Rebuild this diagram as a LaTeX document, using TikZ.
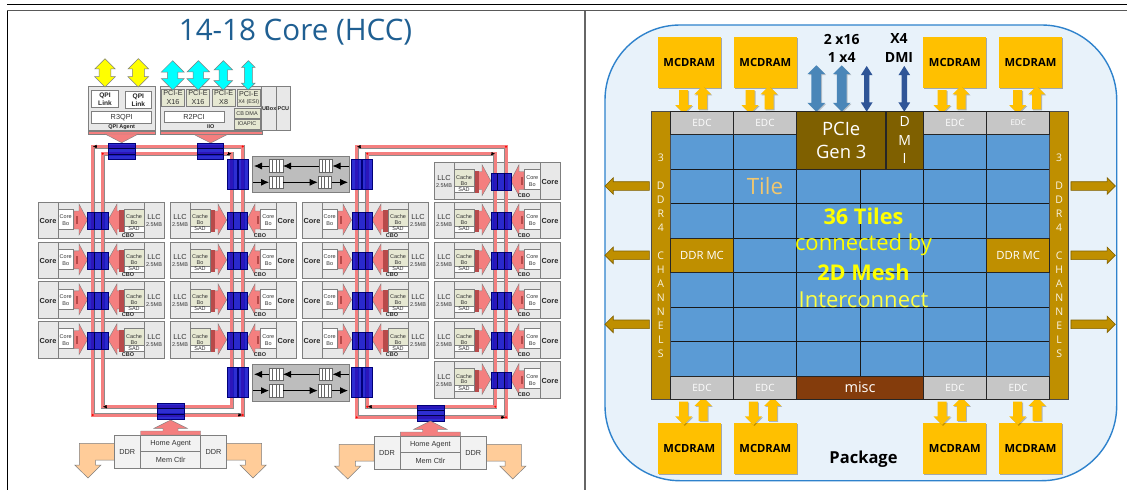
\documentclass[tikz,border=0pt]{standalone}
\usepackage{fontspec}
\setmainfont{Liberation Sans}
\newfontfamily\clearfont{Open Sans}
\usepackage{tikz}
\usetikzlibrary{positioning}
\usetikzlibrary{calc}
\usetikzlibrary{arrows.meta,shapes.arrows,shadows}

\definecolor{busred}{HTML}{F47F7F}
\definecolor{darkred}{HTML}{B84A4A}
\definecolor{stopblue}{HTML}{0000C8}
\definecolor{cellgrey}{HTML}{E8E8E8}
\definecolor{linegrey}{HTML}{7F7F7F}
\definecolor{paleolive}{HTML}{E6E8D2}
\definecolor{peach}{HTML}{FFCC99}
\definecolor{panelgrey}{HTML}{BDBDBD}
\definecolor{titleblue}{HTML}{1F5F92}
\definecolor{pkgfill}{HTML}{E8F2FA}
\definecolor{pkgline}{HTML}{2E82CC}
\definecolor{mcgold}{HTML}{FFC000}
\definecolor{ddrgold}{HTML}{BF8F00}
\definecolor{pciebrown}{HTML}{7F6000}
\definecolor{miscbrown}{HTML}{843C0C}
\definecolor{tileblue}{HTML}{5B9BD5}
\definecolor{edcgrey}{HTML}{C6C6C6}
\definecolor{midblue}{HTML}{4A86B8}
\definecolor{deepblue}{HTML}{2F5597}
\definecolor{linkyellow}{HTML}{FFFF00}
\definecolor{linkcyan}{HTML}{00FFFF}
\definecolor{tiletext}{HTML}{F2C76E}

\tikzset{
cellbox/.style={draw=linegrey,line width=.8pt,fill=cellgrey},
divline/.style={draw=linegrey,line width=.8pt},
whitebox/.style={draw=linegrey,line width=.5pt,fill=white},
olivebox/.style={draw=linegrey,line width=.5pt,fill=paleolive},
redblock/.style={draw=linegrey,line width=.4pt,fill=busred},
stopbox/.style={draw=stopblue!60!black,line width=.4pt,fill=stopblue,fill opacity=.82},
stopline/.style={draw=stopblue!35!black,line width=.8pt},
busline/.style={draw=black!45,double=busred,double distance=3pt,line width=.5pt},
busmark/.style={-{Latex[length=3.5pt,width=3.5pt]},black,line width=.4pt},
lbl/.style={inner sep=0pt,text=black!80,font=\fontsize{7.3}{8}\selectfont},
lblb/.style={inner sep=0pt,text=black!85,font=\bfseries\fontsize{7.3}{8}\selectfont},
lbls/.style={inner sep=0pt,text=black!80,font=\fontsize{5.5}{6}\selectfont},
lblsb/.style={inner sep=0pt,text=black!85,font=\bfseries\fontsize{5.5}{6}\selectfont},
yellowarrow/.style={double arrow,draw=linegrey,line width=.5pt,fill=linkyellow,inner xsep=0pt,inner ysep=5.7pt,rotate=90,double arrow head extend=4.3pt,minimum width=20pt,minimum height=28.3pt},
cyanarrow/.style={double arrow,draw=linegrey,line width=.5pt,fill=linkcyan,inner xsep=0pt,rotate=90,minimum height=29.3pt},
queuenode/.style={rectangle,draw=black!60,line width=.5pt,fill=white,minimum width=13.5pt,minimum height=12.7pt,inner sep=0pt,
path picture={\foreach \qx in {-3.4,0,3.4}{\draw[black!60,line width=.5pt] ([xshift=\qx pt]path picture bounding box.north)--([xshift=\qx pt]path picture bounding box.south);}}},
queueline/.style={-{Latex[length=8pt,width=7pt]},black,line width=.8pt},
peacharrow/.style={draw=linegrey,line width=.5pt,fill=peach},
mcdrambox/.style={rectangle,fill=mcgold,inner sep=0pt,minimum width=63.3pt,minimum height=51.6pt,drop shadow={shadow xshift=1pt,shadow yshift=-1pt,fill=black,opacity=.3},font=\clearfont\bfseries\fontsize{11.2}{12}\selectfont},
mcarrow/.style={single arrow,fill=mcgold,inner xsep=0pt,inner ysep=4.3pt,single arrow head extend=4pt,minimum width=16.6pt,minimum height=23.4pt,drop shadow={shadow xshift=1pt,shadow yshift=-1pt,fill=black,opacity=.25}},
goldarrow/.style={single arrow,draw=pciebrown,line width=.6pt,fill=ddrgold,inner xsep=0pt,inner ysep=4pt,single arrow head extend=4pt,minimum width=16pt,minimum height=44.4pt},
pciearrow/.style={double arrow,fill=midblue,inner xsep=0pt,inner ysep=4.7pt,rotate=90,double arrow head extend=4pt,minimum width=17.4pt,minimum height=46.4pt,drop shadow={shadow xshift=1pt,shadow yshift=-1pt,fill=black,opacity=.2}},
linkarrow/.style={double arrow,fill=deepblue,inner xsep=0pt,inner ysep=2.5pt,rotate=90,double arrow head extend=3.2pt,double arrow tip angle=65,minimum width=11.4pt,minimum height=45.7pt},
edcbox/.style={rectangle,draw=black!85,line width=.8pt,fill=edcgrey,text=white,inner sep=0pt,minimum width=63.2pt,minimum height=23pt,font=\clearfont\fontsize{10}{12}\selectfont},
chiplabel/.style={inner sep=0pt,text=black,font=\clearfont\bfseries\fontsize{14}{16}\selectfont},
meshtext/.style={inner sep=0pt,text=linkyellow,font=\clearfont\fontsize{22}{24}\selectfont},
meshbold/.style={inner sep=0pt,text=linkyellow,font=\clearfont\bfseries\fontsize{21.7}{24}\selectfont},
}

\newcommand{\stophor}[4]{
\draw[stopbox] (#1,#2) rectangle (#3,#4);
\draw[stopline] (#1,{#2+5.3})--(#3,{#2+5.3}) (#1,{#2+10.7})--(#3,{#2+10.7});
}
\newcommand{\stopver}[2]{
\draw[stopbox] (#1,#2) rectangle ({#1+10.2},{#2+30});
}
\newcommand{\stopcore}[2]{
\draw[stopbox] (#1,{#2+10.3}) rectangle ({#1+20.4},{#2+27});
\draw[stopline] ({#1+6.9},{#2+10.3})--({#1+6.9},{#2+27}) ({#1+13.7},{#2+10.3})--({#1+13.7},{#2+27});
}
\newcommand{\coreleft}[3]{
\begin{scope}[shift={(#2,#3)}]
\draw[cellbox] (0,0) rectangle (126,36.5);
\draw[divline] (20,0)--(20,36.5) (106,0)--(106,36.5);
\draw[whitebox] (20.3,7) rectangle (35,27);
\draw[redblock] (36,9)--(41,9)--(41,2)--(49.5,18)--(41,33)--(41,27)--(36,27)--cycle;
\fill[darkred] (37.5,14) rectangle (40,22);
\draw[redblock] (70,18)--(79,2)--(79,9)--(86,9)--(86,27)--(79,27)--(79,33)--cycle;
\fill[darkred] (81,8) rectangle (86,30);
\draw[olivebox] (86,7) rectangle (106,24);
\draw[whitebox] (86,24) rectangle (106,30);
\node[lblb](#1core) at (10,19){Core};
\node[lbls](#1corea) at (27.7,15){Core};
\node[lbls](#1coreb) at (27.7,22){Bo};
\node[lbls](#1cachea) at (96,15){Cache};
\node[lbls](#1cacheb) at (96,20.5){Bo};
\node[lbls](#1sad) at (96,27){SAD};
\node[lblsb](#1cbo) at (90,33.2){CBO};
\node[lbl](#1llc) at (116,15){LLC};
\node[lbls](#1size) at (116,23){2.5MB};
\end{scope}
}
\newcommand{\coreright}[3]{
\begin{scope}[shift={(#2,#3)}]
\draw[cellbox] (0,0) rectangle (126,36.5);
\draw[divline] (20,0)--(20,36.5) (106,0)--(106,36.5);
\draw[whitebox] (90.5,7) rectangle (106,27);
\draw[redblock] (40,9)--(48,9)--(48,2)--(56.7,18)--(48,33)--(48,27)--(40,27)--cycle;
\fill[darkred] (40,8) rectangle (45,30);
\draw[redblock] (76.7,18)--(85,2)--(85,9)--(90,9)--(90,27)--(85,27)--(85,33)--cycle;
\fill[darkred] (86.5,14) rectangle (89,22);
\draw[olivebox] (20,7) rectangle (40,24);
\draw[whitebox] (20,24) rectangle (40,30);
\node[lblb](#1core) at (116,19){Core};
\node[lbls](#1corea) at (98.3,15){Core};
\node[lbls](#1coreb) at (98.3,22){Bo};
\node[lbls](#1cachea) at (30,15){Cache};
\node[lbls](#1cacheb) at (30,20.5){Bo};
\node[lbls](#1sad) at (30,27){SAD};
\node[lblsb](#1cbo) at (90,33.2){CBO};
\node[lbl](#1llc) at (10,15){LLC};
\node[lbls](#1size) at (10,23){2.5MB};
\end{scope}
}
\newcommand{\queuepanel}[2]{
\begin{scope}[shift={(0,#2)}]
\draw[draw=linegrey,line width=.8pt,fill=panelgrey] (252.7,0) rectangle (349,36.7);
\coordinate (#1wa) at (254,10);
\coordinate (#1ea) at (349,10);
\coordinate (#1wb) at (253,26.3);
\coordinate (#1eb) at (348,26.3);
\node[queuenode](#1qa) at (276,10){};
\node[queuenode](#1qb) at (325.5,10){};
\node[queuenode](#1qc) at (276,26.3){};
\node[queuenode](#1qd) at (324.7,26.3){};
\draw[queueline] (#1ea)--(#1qb.east);
\draw[queueline] (#1qb.west)--(#1qa.east);
\draw[queueline] (#1qa.west)--(#1wa);
\draw[queueline] (#1wb)--(#1qc.west);
\draw[queueline] (#1qc.east)--(#1qd.west);
\draw[queueline] (#1qd.east)--(#1eb);
\end{scope}
}
\newcommand{\homeagent}[3]{
\begin{scope}[shift={(#2,#3)}]
\draw[peacharrow] (114.3,443.3)--(79.3,443.3)--(79.3,465)--(74.7,465)--(88,478)--(101,465)--(95.7,465)--(95.7,460)--(114.3,460)--cycle;
\draw[peacharrow] (226.7,443.3)--(261.7,443.3)--(261.7,465)--(266.3,465)--(253,478)--(240,465)--(245.3,465)--(245.3,460)--(226.7,460)--cycle;
\draw[redblock] (140.7,431)--(163,431)--(163,428.3)--(154,428.3)--(170.7,420)--(187.3,428.3)--(178,428.3)--(178,431)--(200.7,431)--(200.7,435)--(140.7,435)--cycle;
\draw[draw=linegrey,line width=.8pt,fill=black!5] (114.3,435) rectangle (226.7,468.3);
\draw[divline] (140.7,435)--(140.7,468.3) (200.7,435)--(200.7,468.3) (140.7,451.7)--(200.7,451.7);
\node[lbl](#1home) at (170.7,443.5){Home Agent};
\node[lbl](#1mem) at (170.7,460){Mem Ctlr};
\node[lbl](#1ddra) at (127.3,452){DDR};
\node[lbl](#1ddrb) at (213.5,452){DDR};
\end{scope}
}

\begin{document}
\begin{tikzpicture}[x=1pt,y=-1pt]
\path[use as bounding box,fill=white] (0,0) rectangle (1127,490);

\draw[black,line width=1pt] (7,4.5)--(1127,4.5);
\draw[black!65,line width=1pt] (7,10.5)--(1127,10.5);
\draw[black,line width=1pt] (7.3,10.5)--(7.3,490);
\draw[black!60,line width=1.3pt] (585,10.5)--(585,490);

\node[inner sep=0pt,text=titleblue,font=\clearfont\fontsize{29.6}{32}\selectfont](title) at (295.5,32){14-18 Core (HCC)};

\foreach \rowy [count=\rownum] in {202,241.9,281.8,321.7}{
\coreleft{A\rownum}{38}{\rowy}
\coreright{B\rownum}{170}{\rowy}
\coreleft{C\rownum}{302}{\rowy}
}
\foreach \rowy [count=\rownum] in {162.7,202,241.9,281.8,321.7,361.5}{
\coreright{D\rownum}{434}{\rowy}
}

\queuepanel{qtop}{156}
\queuepanel{qbot}{364.3}

\draw[cellbox,line width=.6pt] (88.3,86.7) rectangle (155,130.7);
\draw[redblock] (88.3,130.7) rectangle (155,134);
\draw[whitebox] (91.7,90.7) rectangle (118.3,107.3);
\draw[whitebox] (125,91.3) rectangle (151.7,108.7);
\draw[whitebox] (91.7,111.7) rectangle (151.7,123.7);
\node[lblb,align=center,font=\bfseries\fontsize{6.6}{8.6}\selectfont](qpia) at (105,99){QPI\\Link};
\node[lblb,align=center,font=\bfseries\fontsize{6.6}{8.6}\selectfont](qpib) at (138.3,100){QPI\\Link};
\node[lbl](r3qpi) at (121.7,117.5){R3QPI};
\node[lblsb](qpiagent) at (121.7,127){QPI Agent};
\draw[redblock] (105,134)--(138.3,134)--(121.7,142.7)--cycle;

\draw[cellbox,line width=.6pt] (160,86.7) rectangle (261.7,130.7);
\draw[redblock] (160,130.7) rectangle (261.7,134.5);
\foreach \pcx/\pcname/\pclane in {161.7/pcia/X16,186.7/pcib/X16,212.3/pcic/X8}{
\draw[olivebox] (\pcx,89.3) rectangle ({\pcx+22.7},106.3);
\node[lbl,align=center,font=\fontsize{7.2}{8.6}\selectfont](\pcname) at ({\pcx+11.3},97.8){PCI-E\\\pclane};
}
\draw[olivebox] (237.3,89.3) rectangle (260,106.3);
\node[lbl,align=center,font=\fontsize{7.2}{8.6}\selectfont](pcid) at (248.7,94){PCI-E};
\node[lbls](pcidl) at (248.7,102){X4 (ESI)};
\draw[olivebox] (234,108.3) rectangle (260,118.3);
\draw[olivebox] (234,119) rectangle (260,129);
\node[lbls](cbdma) at (247,113.3){CB DMA};
\node[lbls](ioapic) at (247,124){IOAPIC};
\draw[whitebox] (164,111) rectangle (224,122.7);
\node[lbl](r2pci) at (194,116.8){R2PCI};
\node[lblsb](iio) at (210.7,127){IIO};
\draw[redblock] (194,134.5)--(227.3,134.5)--(210.7,143)--cycle;
\draw[cellbox,line width=.6pt] (261.7,86.7) rectangle (276.7,130.7);
\draw[cellbox,line width=.6pt] (276.7,86.7) rectangle (290,130.7);
\node[lblsb](ubox) at (269.2,108.7){UBox};
\node[lblsb](pcu) at (283.4,108.7){PCU};

\node[yellowarrow](qpiup) at (105,72.8){};
\node[yellowarrow](qpiuq) at (138.3,72.8){};
\node[cyanarrow,minimum width=22.3pt,inner ysep=5pt,double arrow head extend=6.2pt](pcup) at (172.7,75.3){};
\node[cyanarrow,minimum width=22pt,inner ysep=5pt,double arrow head extend=6pt](pcuq) at (198.3,75.3){};
\node[cyanarrow,minimum width=18pt,inner ysep=4pt,double arrow head extend=5pt](pcur) at (223.3,75.3){};
\node[cyanarrow,minimum width=13pt,inner ysep=3.7pt,double arrow head extend=2.8pt](pcus) at (248.3,75.3){};

\coordinate (ringAa) at (92.7,146.5);
\coordinate (ringAb) at (242.7,415);
\coordinate (ringBa) at (102.7,153.7);
\coordinate (ringBb) at (231.7,406.7);
\coordinate (ringCa) at (356.7,146.7);
\coordinate (ringCb) at (506,417.3);
\coordinate (ringDa) at (367.3,153.7);
\coordinate (ringDb) at (495.3,406.7);
\draw[busline] (ringAa) rectangle (ringAb);
\draw[busline] (ringBa) rectangle (ringBb);
\draw[busline] (ringCa) rectangle (ringCb);
\draw[busline] (ringDa) rectangle (ringDb);

\foreach \rowy in {202,241.9,281.8,321.7}{
\stopcore{87.4}{\rowy}
\stopcore{226.7}{\rowy}
\stopcore{351.7}{\rowy}
}
\foreach \rowy in {162.7,202,241.9,281.8,321.7,361.5}{
\stopcore{490.7}{\rowy}
}
\stophor{108.3}{143.3}{135}{159.3}
\stophor{196.7}{143.3}{223.3}{159.3}
\stophor{157.3}{403.3}{184}{419.3}
\stophor{417.3}{404.7}{444}{420.7}
\foreach \stx in {226.7,238,351,362}{
\stopver{\stx}{159.3}
\stopver{\stx}{367.5}
}

\foreach \dotx/\doty in {242.7/146.5,102.7/153.7,242.7/415,92.7/415,506/146.7,367.3/153.7,506/417.3,356.7/417.3,495.3/406.7,367.3/406.7}{
\fill[red] (\dotx,\doty) circle (1.1);
}
\foreach \markx/\marky/\marke in {97/146.5/93,227/153.7/231.5,107/406.7/103,238/415/242,361/146.7/357,491/153.7/495,372/406.7/368,501/417.3/505}{
\draw[busmark] (\markx,\marky)--(\marke,\marky);
}

\homeagent{hal}{0}{0}
\homeagent{har}{259.7}{1}

\draw[draw=pkgline,line width=1.4pt,fill=pkgfill,rounded corners=75pt] (605,25) rectangle (1116.7,480.7);

\foreach \mx/\mname in {689.3/a,765.3/b,954.8/c,1030.5/d}{
\node[mcdrambox](mctop\mname) at (\mx,62.5){MCDRAM};
\node[mcdrambox](mcbot\mname) at (\mx,448.5){MCDRAM};
}
\foreach \mx/\mname in {683.7/a,750/b,942/c,1017.7/d}{
\node[mcarrow,rotate=-90](topdown\mname) at (\mx,99.6){};
\node[mcarrow,rotate=90](topup\mname) at ({\mx+19},99.9){};
}
\foreach \mx/\mname in {683.7/a,753.3/b,942/c,1017.7/d}{
\node[mcarrow,rotate=-90](botdown\mname) at (\mx,411){};
\node[mcarrow,rotate=90](botup\mname) at ({\mx+19.4},411.3){};
}

\node[pciearrow](pciea) at (816.3,88.5){};
\node[pciearrow](pcieb) at (841.7,88.5){};
\node[linkarrow](pciec) at (866.7,88.8){};
\node[linkarrow](dmia) at (904.3,88.8){};
\node[chiplabel](lanea) at (841.7,39){2 x16};
\node[chiplabel](laneb) at (841.7,57.3){1 x4};
\node[chiplabel](lanec) at (899,39){X4};
\node[chiplabel](laned) at (899,57.3){DMI};

\foreach \ay/\aname in {186/a,255.3/b,324.3/c}{
\node[goldarrow,rotate=180](ddrl\aname) at (629.3,\ay){};
\node[goldarrow](ddrr\aname) at (1091,\ay){};
}

\fill[tileblue] (670.3,134.3) rectangle (1049.7,376);
\foreach \gx in {733.4,796.7,860,923.3,986.5}{
\draw[black!90,line width=1pt] (\gx,134.3)--(\gx,376);
}
\foreach \gy in {169,203.3,238,272.3,307.3,341.7}{
\draw[black!90,line width=1pt] (670.3,\gy)--(1049.7,\gy);
}

\draw[draw=black!70,line width=.6pt,fill=ddrgold] (651.3,111.3) rectangle (670.3,399.3);
\draw[draw=black!70,line width=.6pt,fill=ddrgold] (1049.7,111.3) rectangle (1068.7,399.3);
\node[inner sep=0pt,align=center,text=white!90!ddrgold,font=\clearfont\fontsize{10.5}{14}\selectfont](chanl) at (660.8,255.3){3\\ \\D\\D\\R\\4\\ \\C\\H\\A\\N\\N\\E\\L\\S};
\node[inner sep=0pt,align=center,text=white!90!ddrgold,font=\clearfont\fontsize{10.5}{14}\selectfont](chanr) at (1059.2,255.3){3\\ \\D\\D\\R\\4\\ \\C\\H\\A\\N\\N\\E\\L\\S};

\node[edcbox](edca) at (702,122.8){EDC};
\node[edcbox](edcb) at (765,122.8){EDC};
\node[edcbox](edcc) at (955,122.8){EDC};
\node[edcbox,font=\clearfont\fontsize{8}{12}\selectfont](edcd) at (1018.2,122.8){EDC};
\node[edcbox](edce) at (702,387.6){EDC};
\node[edcbox](edcf) at (765,387.6){EDC};
\node[edcbox](edcg) at (955,387.6){EDC};
\node[edcbox](edch) at (1018.2,387.6){EDC};

\node[edcbox,fill=pciebrown,minimum width=89pt,minimum height=58pt,align=center,font=\clearfont\fontsize{18.4}{23}\selectfont](pcie) at (841.2,140.2){PCIe\\Gen 3};
\node[edcbox,fill=pciebrown,minimum width=37.3pt,minimum height=58pt,align=center,font=\clearfont\fontsize{14}{18.5}\selectfont](dmi) at (904.6,140.2){D\\M\\I};
\node[edcbox,fill=miscbrown,minimum width=126.6pt,minimum height=23.3pt,font=\clearfont\fontsize{14.5}{16}\selectfont](misc) at (860,387.6){misc};
\node[edcbox,fill=ddrgold,minimum width=63.2pt,minimum height=34.3pt,font=\clearfont\fontsize{11.3}{12}\selectfont](mcl) at (702,255.2){DDR MC};
\node[edcbox,fill=ddrgold,minimum width=63.2pt,minimum height=34.3pt,font=\clearfont\fontsize{11.3}{12}\selectfont](mcr) at (1018.2,255.2){DDR MC};

\node[inner sep=0pt,text=tiletext,font=\clearfont\fontsize{22.5}{24}\selectfont](tile) at (765,186){Tile};
\node[meshbold](tilecount) at (863.5,216.7){36 Tiles};
\node[meshtext](conn) at (863.5,244.5){connected by};
\node[meshbold](mesh) at (863.5,272){2D Mesh};
\node[meshtext,text=linkyellow!75!white](inter) at (863.5,300){Interconnect};
\node[chiplabel,font=\clearfont\bfseries\fontsize{16.5}{18}\selectfont](pkg) at (863.5,459){Package};
\end{tikzpicture}
\end{document}
